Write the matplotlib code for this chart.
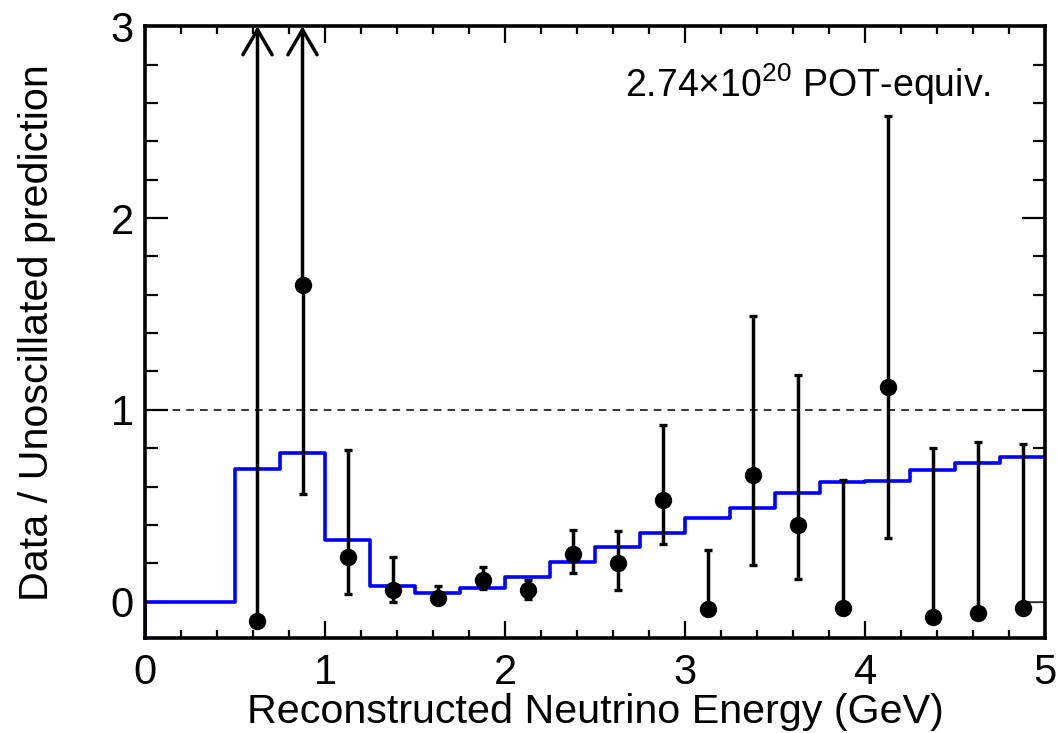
import numpy as np
import matplotlib
matplotlib.use("Agg")
import matplotlib.pyplot as plt
from matplotlib.ticker import MultipleLocator

plt.rcParams["font.family"] = ["Liberation Sans", "DejaVu Sans"]
plt.rcParams["mathtext.default"] = "regular"

# prediction histogram (blue)
edges = [0.0, 0.5, 0.75, 1.0, 1.25, 1.5, 1.75, 2.0, 2.25, 2.5, 2.75, 3.0,
         3.25, 3.5, 3.75, 4.0, 4.25, 4.5, 4.75, 5.0]
pred = [0.0, 0.69, 0.777, 0.32, 0.083, 0.046, 0.07, 0.128, 0.204, 0.282,
        0.358, 0.434, 0.486, 0.568, 0.622, 0.631, 0.688, 0.723, 0.754]

# data points
centers = [0.625, 0.875, 1.125, 1.375, 1.625, 1.875, 2.125, 2.375, 2.625,
           2.875, 3.125, 3.375, 3.625, 3.875, 4.125, 4.375, 4.625, 4.875]
ratio = [-0.10, 1.65, 0.235, 0.06, 0.02, 0.11, 0.06, 0.25, 0.20,
         0.53, -0.04, 0.66, 0.40, -0.035, 1.12, -0.08, -0.057, -0.035]
lower = [None, 0.56, 0.04, 0.0, 0.02, 0.065, 0.013, 0.149, 0.06,
         0.30, None, 0.19, 0.12, None, 0.33, None, None, None]
upper = [np.inf, np.inf, 0.79, 0.23, 0.08, 0.18, 0.11, 0.373, 0.37,
         0.92, 0.27, 1.49, 1.18, 0.635, 2.53, 0.80, 0.83, 0.82]

ymin, ymax = -0.19, 3.0

fig = plt.figure(figsize=(10.58, 7.33), dpi=100)
ax = fig.add_axes([0.137, 0.1296, 0.851, 0.8345])
ax.set_axisbelow(True)

# white-filled histogram (hides ticks underneath, like ROOT)
vals_ext = np.append(pred, pred[-1])
ax.fill_between(edges, vals_ext, 0, step="post", color="white", zorder=1.8, lw=0)
ax.plot([edges[-1], edges[-1]], [0, pred[-1]], color="0.35", lw=0.8, zorder=1.9)
ax.plot([edges[-1] - 0.125, edges[-1]], [0, 0], color="0.2", lw=1.2, zorder=1.9)

xs = np.concatenate([[edges[0]], edges])
ys = np.concatenate([[ymin], pred, [pred[-1]]])
ax.step(xs, ys, where="post", color="#0000ff", lw=2.6, zorder=3)

ax.axhline(1.0, color="black", lw=1.1, ls=(0, (5, 4)), zorder=2.5)

# error bars
for x, y, lo, hi in zip(centers, ratio, lower, upper):
    lo = y if lo is None else lo
    if np.isinf(hi):
        ax.annotate("", xy=(x, ymax), xytext=(x, y), annotation_clip=False,
                    arrowprops=dict(arrowstyle="->,head_length=1.8,head_width=1.05",
                                    lw=2.5, color="black", shrinkA=0, shrinkB=0))
        if lo < y:
            ax.errorbar([x], [y], yerr=[[y - lo], [0]], fmt="none", ecolor="black",
                        elinewidth=2.5, capsize=2.6, capthick=2.4, zorder=4)
        continue
    ax.errorbar([x], [y], yerr=[[y - lo], [hi - y]], fmt="none", ecolor="black",
                elinewidth=2.5, capsize=2.6, capthick=2.4, zorder=4)
ax.plot(centers, ratio, "o", color="black", ms=11.5, zorder=5, clip_on=False)

ax.set_xlim(0, 5)
ax.set_ylim(ymin, ymax)
ax.xaxis.set_major_locator(MultipleLocator(1))
ax.xaxis.set_minor_locator(MultipleLocator(0.2))
ax.yaxis.set_major_locator(MultipleLocator(1))
ax.yaxis.set_minor_locator(MultipleLocator(0.2))
ax.tick_params(which="both", direction="in", top=True, right=True, width=1.6, labelsize=30)
ax.tick_params(axis="x", which="major", length=12.5, pad=11)
ax.tick_params(axis="x", which="minor", length=6)
ax.tick_params(axis="y", which="major", length=16.5, pad=8)
ax.tick_params(axis="y", which="minor", length=9)
for s in ax.spines.values():
    s.set_linewidth(2.6)
    s.set_zorder(6)

ax.set_xlabel("Reconstructed Neutrino Energy (GeV)", fontsize=29.7, labelpad=0)
ax.set_ylabel("Data / Unoscillated prediction", fontsize=29.7, labelpad=39)

ax.text(0.533, 0.884, "2.74×10$^{20}$ POT-equiv.", transform=ax.transAxes,
        fontsize=27, ha="left", va="baseline")

fig.savefig("out.png", dpi=100)
